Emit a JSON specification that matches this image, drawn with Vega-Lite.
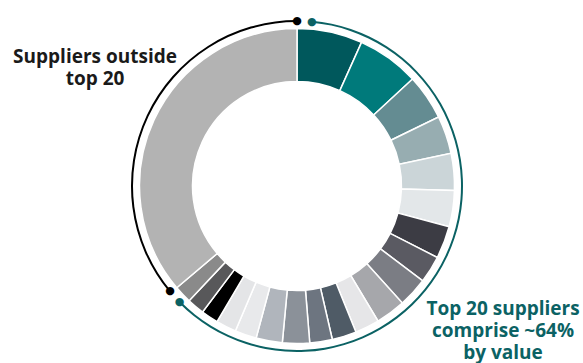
{
  "$schema": "https://vega.github.io/schema/vega-lite/v6.json",
  "width": 583,
  "height": 363,
  "autosize": {"type": "fit", "contains": "padding"},
  "padding": {"left": 11, "right": 0, "top": 9, "bottom": 0},
  "background": "white",
  "view": {"stroke": null},
  "datasets": {
    "suppliers": [
      {"supplier": "S01", "rank": 1, "share": 6.72},
      {"supplier": "S02", "rank": 2, "share": 6.39},
      {"supplier": "S03", "rank": 3, "share": 4.67},
      {"supplier": "S04", "rank": 4, "share": 3.89},
      {"supplier": "S05", "rank": 5, "share": 3.78},
      {"supplier": "S06", "rank": 6, "share": 3.72},
      {"supplier": "S07", "rank": 7, "share": 3.33},
      {"supplier": "S08", "rank": 8, "share": 2.78},
      {"supplier": "S09", "rank": 9, "share": 3.06},
      {"supplier": "S10", "rank": 10, "share": 3.06},
      {"supplier": "S11", "rank": 11, "share": 2.5},
      {"supplier": "S12", "rank": 12, "share": 2.5},
      {"supplier": "S13", "rank": 13, "share": 2.31},
      {"supplier": "S14", "rank": 14, "share": 2.78},
      {"supplier": "S15", "rank": 15, "share": 2.69},
      {"supplier": "S16", "rank": 16, "share": 2.22},
      {"supplier": "S17", "rank": 17, "share": 2.08},
      {"supplier": "S18", "rank": 18, "share": 1.75},
      {"supplier": "S19", "rank": 19, "share": 1.78},
      {"supplier": "S20", "rank": 20, "share": 1.81},
      {"supplier": "Outside top 20", "rank": 21, "share": 36.18}
    ],
    "brackets": [
      {"group": "Top 20", "start": 1.44, "end": 62.6},
      {"group": "Outside top 20", "start": 63.97, "end": 100}
    ],
    "labels": [
      {"group": "Outside top 20", "label": "Suppliers outside\ntop 20", "angle": 83.7, "dist": 1.506},
      {"group": "Top 20", "label": "Top 20 suppliers\ncomprise ~64%\nby value", "angle": 33.9, "dist": 1.548}
    ]
  },
  "resolve": {"scale": {"color": "independent"}},
  "layer": [
    {
      "data": {"name": "suppliers"},
      "mark": {"type": "arc", "outerRadius": 157.5, "innerRadius": 104.5, "stroke": "white", "strokeWidth": 1.5},
      "encoding": {
        "theta": {"field": "share", "type": "quantitative", "stack": true, "scale": {"domain": [0, 100]}},
        "order": {"field": "rank", "type": "quantitative"},
        "color": {
          "field": "supplier",
          "type": "nominal",
          "legend": null,
          "scale": {
            "domain": ["S01","S02","S03","S04","S05","S06","S07","S08","S09","S10","S11","S12","S13","S14","S15","S16","S17","S18","S19","S20","Outside top 20"],
            "range": ["#00585c","#007a7b","#648c92","#97adb1","#cbd5d8","#e3e7e9","#3c3c44","#5a5a62","#7b7d84","#a6a7ab","#e6e6e8","#4f5b66","#6d7580","#8b9199","#b0b5bc","#e8e9eb","#e4e5e7","#000000","#58585a","#8a8a8a","#b3b3b3"]
          }
        }
      }
    },
    {
      "data": {"name": "brackets"},
      "mark": {"type": "arc", "outerRadius": 166, "innerRadius": 164},
      "encoding": {
        "theta": {"field": "start", "type": "quantitative", "stack": null, "scale": {"domain": [0, 100]}},
        "theta2": {"field": "end"},
        "color": {"field": "group", "type": "nominal", "legend": null, "scale": {"domain": ["Top 20", "Outside top 20"], "range": ["#0b6264", "#000000"]}}
      }
    },
    {
      "data": {"name": "brackets"},
      "mark": {"type": "text", "text": "●", "radius": 165, "fontSize": 11, "align": "center", "baseline": "middle", "font": "DejaVu Sans"},
      "encoding": {
        "theta": {"field": "start", "type": "quantitative", "scale": {"domain": [0, 100]}},
        "color": {"field": "group", "type": "nominal", "legend": null, "scale": {"domain": ["Top 20", "Outside top 20"], "range": ["#0b6264", "#000000"]}}
      }
    },
    {
      "data": {"name": "brackets"},
      "mark": {"type": "text", "text": "●", "radius": 165, "fontSize": 11, "align": "center", "baseline": "middle", "font": "DejaVu Sans"},
      "encoding": {
        "theta": {"field": "end", "type": "quantitative", "scale": {"domain": [0, 100]}},
        "color": {"field": "group", "type": "nominal", "legend": null, "scale": {"domain": ["Top 20", "Outside top 20"], "range": ["#0b6264", "#000000"]}}
      }
    },
    {
      "data": {"name": "labels"},
      "mark": {"type": "text", "lineBreak": "\n", "align": "center", "baseline": "alphabetic", "font": "Open Sans", "fontWeight": "bold", "fontSize": 19, "lineHeight": 22},
      "encoding": {
        "text": {"field": "label"},
        "theta": {"field": "angle", "type": "quantitative", "scale": {"domain": [0, 100]}},
        "radius": {"field": "dist", "type": "quantitative", "scale": {"type": "linear", "domain": [0, 1], "range": [0, 157], "zero": true}},
        "color": {"field": "group", "type": "nominal", "legend": null, "scale": {"domain": ["Top 20", "Outside top 20"], "range": ["#0b6264", "#1a1a1a"]}}
      }
    }
  ]
}
